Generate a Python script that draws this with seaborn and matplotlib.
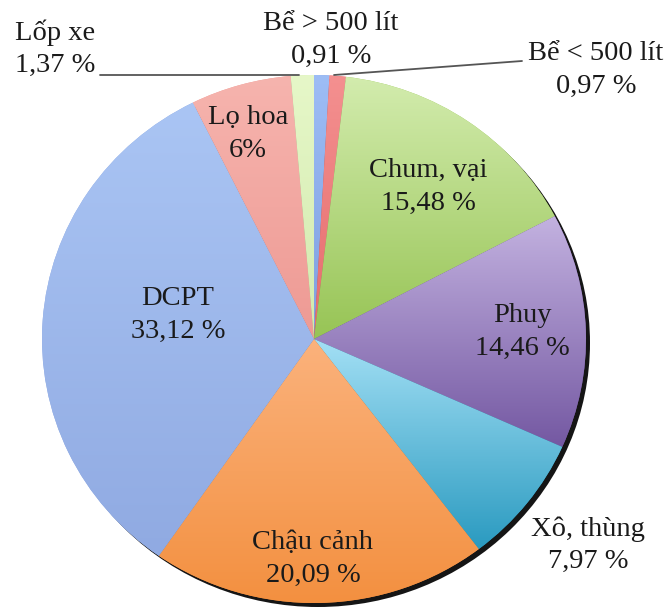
import numpy as np
import matplotlib
matplotlib.use("Agg")
import matplotlib.pyplot as plt
from matplotlib.colors import LinearSegmentedColormap
from matplotlib.patches import Ellipse
import seaborn as sns

# Shares of container types (%), clockwise from 12 o'clock
categories = ["Bể > 500 lít", "Bể < 500 lít", "Chum, vại", "Phuy", "Xô, thùng",
              "Chậu cảnh", "DCPT", "Lọ hoa", "Lốp xe"]
shares = [0.91, 0.97, 15.48, 14.46, 7.97, 20.09, 33.12, 6, 1.37]

# light (top) / dark (bottom) shade of each slice
light_colors = ["#9DBDF5", "#F49090", "#D3ECAE", "#C3B2E0", "#A4E0F5",
                "#FBB27C", "#AAC5F4", "#F6B4AE", "#E6F7C8"]
dark_colors = ["#7E9FE0", "#E56C6C", "#97C455", "#7458A2", "#2A9AC0",
               "#F39040", "#90AAE2", "#EE9A94", "#D2EAAE"]

sns.set_theme(style="white")
plt.rcParams["font.family"] = ["Liberation Serif", "DejaVu Serif"]

W, H = 670, 611
cx, cy, rx, ry = 314, 339, 272, 264


def P(px, py):
    """Figure pixel position -> axes data coordinates (pie radius = 1)."""
    return ((px - cx) / rx, (cy - py) / ry)


def fmt(v):
    if float(v).is_integer():
        return f"{int(v)}%"
    return f"{v:.2f}".replace(".", ",") + " %"


fig = plt.figure(figsize=(W / 100, H / 100), dpi=100)
ax = fig.add_axes([0, 0, 1, 1])

# drop shadow behind the pie
sx, sy = P(cx + 4, cy + 4)
ax.add_patch(Ellipse((sx, sy), 2, 2, facecolor="#151515", edgecolor="none", zorder=0))

wedges, _ = ax.pie(shares, startangle=90, counterclock=False, radius=1,
                   center=(0, 0), colors=dark_colors,
                   wedgeprops=dict(linewidth=0), frame=True)

# vertical gradient fill clipped to each wedge
for w, lc, dc in zip(wedges, light_colors, dark_colors):
    w.set_zorder(1)
    th = np.radians(np.linspace(w.theta1, w.theta2, 200))
    xs = np.concatenate([[0], np.cos(th)])
    ys = np.concatenate([[0], np.sin(th)])
    cmap = LinearSegmentedColormap.from_list("g", [lc, dc])
    grad = np.linspace(1, 0, 256)[:, None]
    im = ax.imshow(grad, cmap=cmap, vmin=0, vmax=1, origin="lower",
                   extent=(xs.min(), xs.max(), ys.min(), ys.max()),
                   aspect="auto", interpolation="bilinear", zorder=1.5)
    im.set_clip_path(w)

# data labels (pixel centres)
label_pos = {
    "Bể > 500 lít": (331, 40),
    "Bể < 500 lít": (596, 70),
    "Chum, vại": (428, 187),
    "Phuy": (522, 332),
    "Xô, thùng": (588, 545),
    "Chậu cảnh": (313, 559),
    "DCPT": (178, 315),
    "Lọ hoa": (248, 134),
    "Lốp xe": (55, 49),
}
for cat, v in zip(categories, shares):
    x, y = P(*label_pos[cat])
    ax.text(x, y, f"{cat}\n{fmt(v)}", ha="center", va="center",
            fontsize=20.5, color="#1a1a1a", linespacing=1.38, zorder=5)

# leader lines for the two thin slices labelled outside
for (x0, y0), (x1, y1) in [((100, 75), (299, 75)), ((522, 61), (334, 75))]:
    a, b = P(x0, y0)
    c, d = P(x1, y1)
    ax.plot([a, c], [b, d], color="#555555", lw=1.3, zorder=4)

ax.set_xlim(P(0, 0)[0], P(W, 0)[0])
ax.set_ylim(P(0, H)[1], P(0, 0)[1])
ax.set_aspect("auto")
ax.axis("off")

fig.savefig("out.png", dpi=100)
